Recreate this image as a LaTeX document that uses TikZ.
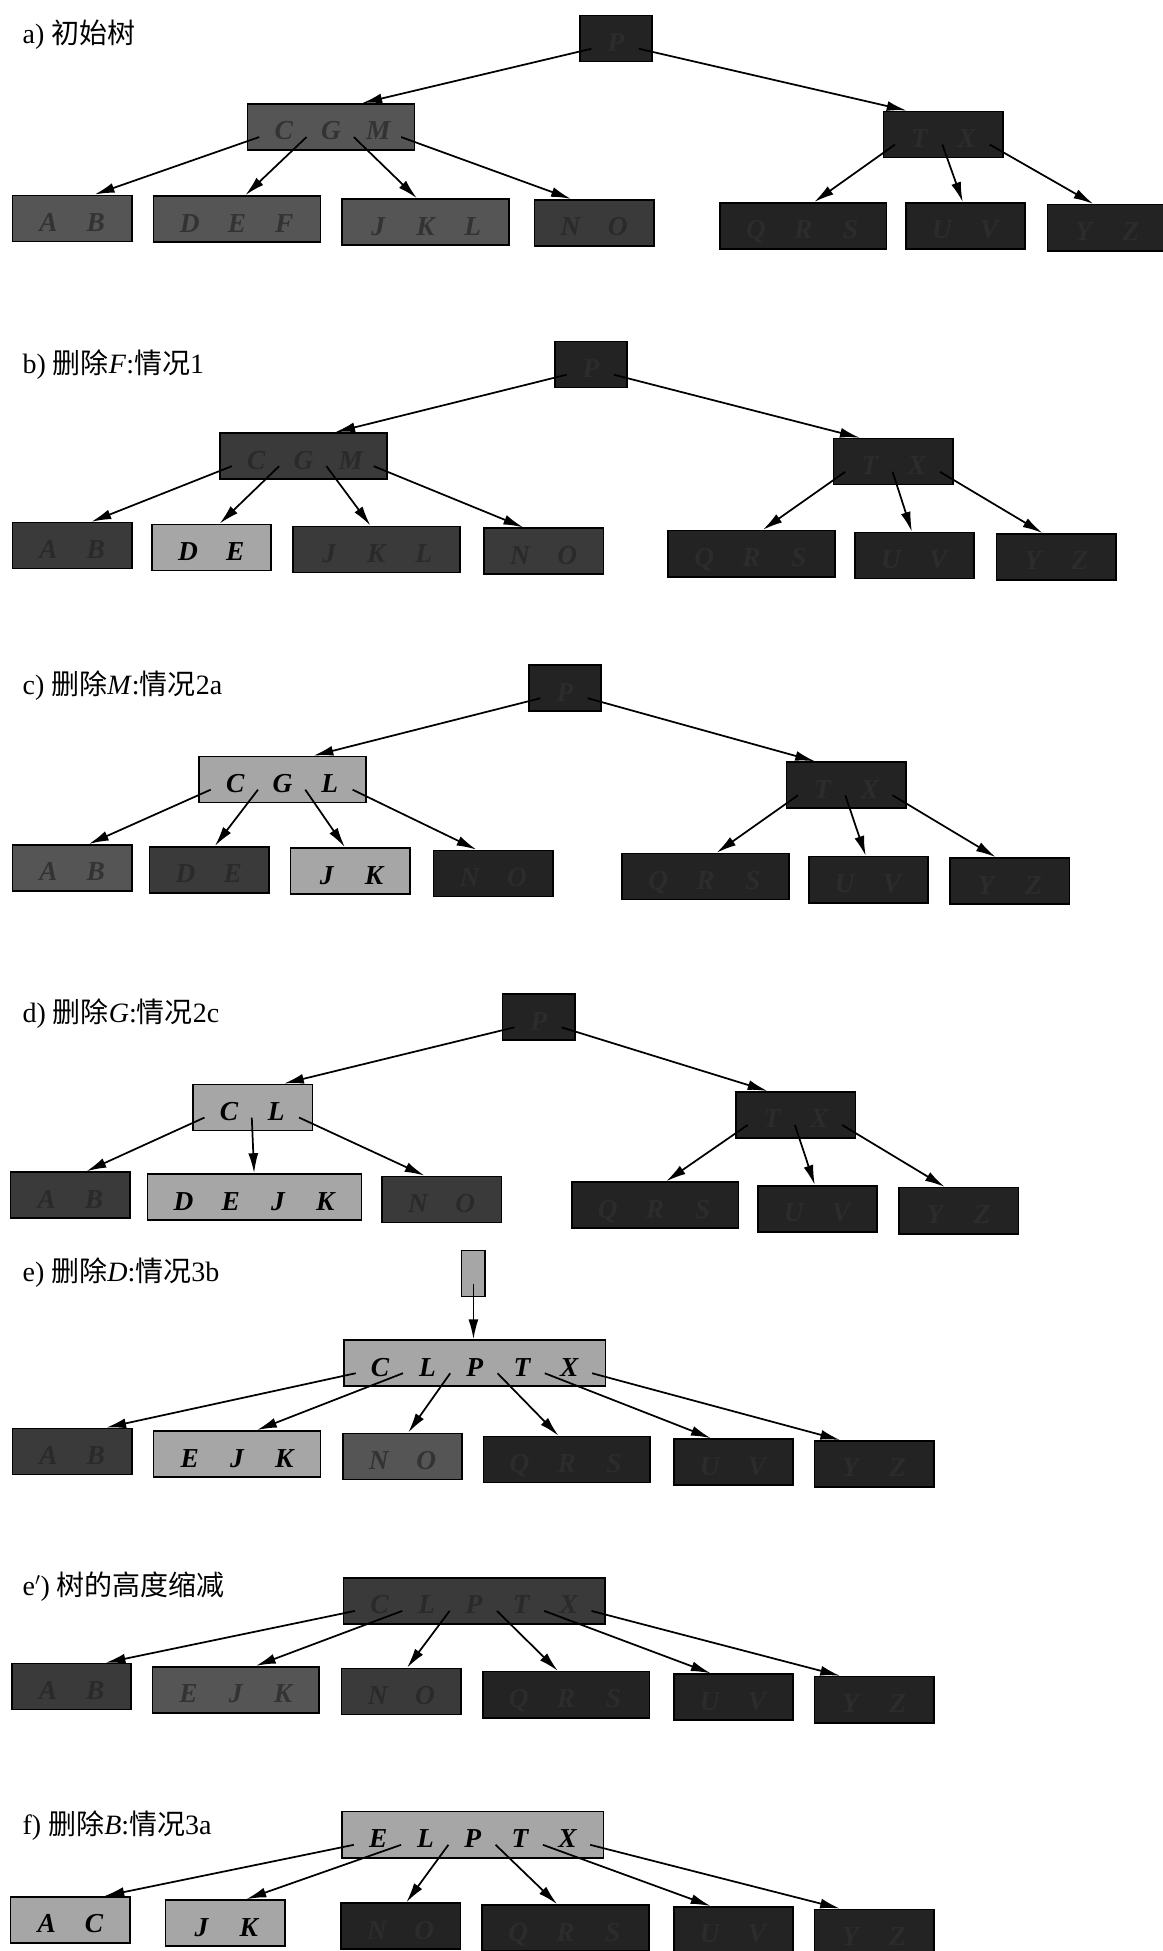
\documentclass[tikz,border=0pt]{standalone}
\usepackage{fontspec}
\setmainfont{Liberation Serif}
\newfontfamily\cjk{Noto Sans CJK SC}
\usetikzlibrary{arrows.meta,calc}

% keys of one B-tree node, one slot of 38pt each
\newcommand\bkeys[1]{\foreach \kname in {#1}{\makebox[38pt]{\kname}}}
% pointer #2 of node #1 to child #3
\newcommand\bptr[3]{%
  \coordinate (ps) at ($(#1.south west)+({(10+38*#2)*1pt},11pt)$);
  \coordinate (pt) at ($(#3.north)!0.12!(ps)$);
  \draw[arr] (ps) -- (pt |- #3.north);}

\begin{document}
\begin{tikzpicture}[x=1pt,y=-1pt]

	% ============================================================
	% COLORS
	% ============================================================
	\definecolor{liteFill}{HTML}{A6A6A6}
	\definecolor{greyFill}{HTML}{555555}
	\definecolor{greyText}{HTML}{333333}
	\definecolor{darkFill}{HTML}{3A3A3A}
	\definecolor{darkText}{HTML}{2A2A2A}
	\definecolor{blackFill}{HTML}{232323}
	\definecolor{blackText}{HTML}{2C2C2C}

	% ============================================================
	% STYLES
	% ============================================================
	\tikzset{
		bnode/.style={
			draw=black,
			line width=1.3pt,
			minimum height=37pt,
			inner xsep=10pt,
			inner ysep=0pt,
			text height=21pt,
			text depth=0pt,
			font=\bfseries\itshape\fontsize{22}{22}\selectfont
		},
	liteBox/.style={bnode, fill=liteFill, text=black},
	greyBox/.style={bnode, fill=greyFill, text=greyText},
	darkBox/.style={bnode, fill=darkFill, text=darkText},
	blackBox/.style={bnode, fill=blackFill, text=blackText},
	arr/.style={-{Latex[length=16pt,width=8pt]},line width=1.4pt,draw=black},
	lbl/.style={anchor=west, inner sep=0pt, font=\fontsize{22.5}{22.5}\selectfont}
	}

	\useasboundingbox (0,0) rectangle (934,1568);

	% ============================================================
	% a) INITIAL TREE
	% ============================================================
	\node[lbl] (alab) at (18,28) {a) {\cjk 初始树}};
	\node[blackBox] (aroot) at (495,31)    {\bkeys{P}};
	\node[greyBox]  (acgm)  at (266,102)   {\bkeys{C,G,M}};
	\node[blackBox] (atx)   at (758,108)   {\bkeys{T,X}};
	\node[greyBox]  (aab)   at (58,175.5)  {\bkeys{A,B}};
	\node[greyBox]  (adef)  at (190.5,176) {\bkeys{D,E,F}};
	\node[greyBox]  (ajkl)  at (342,178.5) {\bkeys{J,K,L}};
	\node[darkBox]  (ano)   at (477.5,179) {\bkeys{N,O}};
	\node[blackBox] (aqrs)  at (645.5,181.5) {\bkeys{Q,R,S}};
	\node[blackBox] (auv)   at (776,181.5) {\bkeys{U,V}};
	\node[blackBox] (ayz)   at (890,183)   {\bkeys{Y,Z}};

	\bptr{aroot}{0}{acgm}
	\bptr{aroot}{1}{atx}
	\foreach \i/\ch in {0/aab,1/adef,2/ajkl,3/ano} {\bptr{acgm}{\i}{\ch}}
	\foreach \i/\ch in {0/aqrs,1/auv,2/ayz} {\bptr{atx}{\i}{\ch}}

	% ============================================================
	% b) DELETE F: CASE 1
	% ============================================================
	\node[lbl] (blab) at (18,293) {b) {\cjk 删除}\textit{F}:{\cjk 情况}1};
	\node[blackBox] (broot) at (475,293)   {\bkeys{P}};
	\node[darkBox]  (bcgm)  at (244,366.5) {\bkeys{C,G,M}};
	\node[blackBox] (btx)   at (718,371)   {\bkeys{T,X}};
	\node[darkBox]  (bab)   at (58,438.5)  {\bkeys{A,B}};
	\node[liteBox]  (bde)   at (170,440)   {\bkeys{D,E}};
	\node[darkBox]  (bjkl)  at (302.5,441.5) {\bkeys{J,K,L}};
	\node[darkBox]  (bno)   at (437,443)   {\bkeys{N,O}};
	\node[blackBox] (bqrs)  at (604,445)   {\bkeys{Q,R,S}};
	\node[blackBox] (buv)   at (735,446.5) {\bkeys{U,V}};
	\node[blackBox] (byz)   at (849,447.5) {\bkeys{Y,Z}};

	\bptr{broot}{0}{bcgm}
	\bptr{broot}{1}{btx}
	\foreach \i/\ch in {0/bab,1/bde,2/bjkl,3/bno} {\bptr{bcgm}{\i}{\ch}}
	\foreach \i/\ch in {0/bqrs,1/buv,2/byz} {\bptr{btx}{\i}{\ch}}

	% ============================================================
	% c) DELETE M: CASE 2a
	% ============================================================
	\node[lbl] (clab) at (18,551) {c) {\cjk 删除}\textit{M}:{\cjk 情况}2a};
	\node[blackBox] (croot) at (454,553)   {\bkeys{P}};
	\node[liteBox]  (ccgl)  at (227,626.5) {\bkeys{C,G,L}};
	\node[blackBox] (ctx)   at (680,631)   {\bkeys{T,X}};
	\node[greyBox]  (cab)   at (58,697.5)  {\bkeys{A,B}};
	\node[darkBox]  (cde)   at (168,699)   {\bkeys{D,E}};
	\node[liteBox]  (cjk)   at (281.5,700) {\bkeys{J,K}};
	\node[blackBox] (cno)   at (396.5,702) {\bkeys{N,O}};
	\node[blackBox] (cqrs)  at (567,704.5) {\bkeys{Q,R,S}};
	\node[blackBox] (cuv)   at (698,707)   {\bkeys{U,V}};
	\node[blackBox] (cyz)   at (811.5,708) {\bkeys{Y,Z}};

	\bptr{croot}{0}{ccgl}
	\bptr{croot}{1}{ctx}
	\foreach \i/\ch in {0/cab,1/cde,2/cjk,3/cno} {\bptr{ccgl}{\i}{\ch}}
	\foreach \i/\ch in {0/cqrs,1/cuv,2/cyz} {\bptr{ctx}{\i}{\ch}}

	% ============================================================
	% d) DELETE G: CASE 2c
	% ============================================================
	\node[lbl] (dlab) at (18,815) {d) {\cjk 删除}\textit{G}:{\cjk 情况}2c};
	\node[blackBox] (droot) at (433,817.5) {\bkeys{P}};
	\node[liteBox]  (dcl)   at (203,890)   {\bkeys{C,L}};
	\node[blackBox] (dtx)   at (639.5,896) {\bkeys{T,X}};
	\node[darkBox]  (dab)   at (56.5,960.5) {\bkeys{A,B}};
	\node[liteBox]  (ddejk) at (204.5,962) {\bkeys{D,E,J,K}};
	\node[darkBox]  (dno)   at (355,964)   {\bkeys{N,O}};
	\node[blackBox] (dqrs)  at (526.5,968.5) {\bkeys{Q,R,S}};
	\node[blackBox] (duv)   at (657,971.5) {\bkeys{U,V}};
	\node[blackBox] (dyz)   at (770.5,973) {\bkeys{Y,Z}};

	\bptr{droot}{0}{dcl}
	\bptr{droot}{1}{dtx}
	\foreach \i/\ch in {0/dab,1/ddejk,2/dno} {\bptr{dcl}{\i}{\ch}}
	\foreach \i/\ch in {0/dqrs,1/duv,2/dyz} {\bptr{dtx}{\i}{\ch}}

	% ============================================================
	% e) DELETE D: CASE 3b
	% ============================================================
	\node[lbl] (elab) at (18,1023) {e) {\cjk 删除}\textit{D}:{\cjk 情况}3b};
	\node[bnode, fill=liteFill, minimum width=19pt, inner xsep=0pt] (eroot) at (380.5,1023.5) {};
	\node[liteBox]  (eclptx) at (381.5,1095.5) {\bkeys{C,L,P,T,X}};
	\node[darkBox]  (eab)   at (58,1166.5)  {\bkeys{A,B}};
	\node[liteBox]  (eejk)  at (190.5,1168.5) {\bkeys{E,J,K}};
	\node[greyBox]  (eno)   at (323.5,1170.5) {\bkeys{N,O}};
	\node[blackBox] (eqrs)  at (455.5,1173) {\bkeys{Q,R,S}};
	\node[blackBox] (euv)   at (589.5,1175) {\bkeys{U,V}};
	\node[blackBox] (eyz)   at (702.5,1176.5) {\bkeys{Y,Z}};

	\draw[arr] ($(eroot.south)+(0,-11)$) -- (eclptx.north -| eroot.south);
	\foreach \i/\ch in {0/eab,1/eejk,2/eno,3/eqrs,4/euv,5/eyz} {\bptr{eclptx}{\i}{\ch}}

	% ============================================================
	% e') TREE HEIGHT SHRINKS
	% ============================================================
	\node[lbl] (plab) at (18,1275) {e$'$) {\cjk 树的高度缩减}};
	\node[darkBox]  (pclptx) at (381,1286.5) {\bkeys{C,L,P,T,X}};
	\node[darkBox]  (pab)   at (57.5,1355.5) {\bkeys{A,B}};
	\node[greyBox]  (pejk)  at (189.5,1358) {\bkeys{E,J,K}};
	\node[darkBox]  (pno)   at (322.5,1359.5) {\bkeys{N,O}};
	\node[blackBox] (pqrs)  at (455,1362)   {\bkeys{Q,R,S}};
	\node[blackBox] (puv)   at (589.5,1364) {\bkeys{U,V}};
	\node[blackBox] (pyz)   at (702.5,1366) {\bkeys{Y,Z}};

	\foreach \i/\ch in {0/pab,1/pejk,2/pno,3/pqrs,4/puv,5/pyz} {\bptr{pclptx}{\i}{\ch}}

	% ============================================================
	% f) DELETE B: CASE 3a
	% ============================================================
	\node[lbl] (flab) at (18,1467) {f) {\cjk 删除}\textit{B}:{\cjk 情况}3a};
	\node[liteBox]  (felptx) at (380,1474.5) {\bkeys{E,L,P,T,X}};
	\node[liteBox]  (fac)   at (56.5,1543)  {\bkeys{A,C}};
	\node[liteBox]  (fjk)   at (181,1545.5) {\bkeys{J,K}};
	\node[blackBox] (fno)   at (322,1548)   {\bkeys{N,O}};
	\node[blackBox] (fqrs)  at (454.5,1549.5) {\bkeys{Q,R,S}};
	\node[blackBox] (fuv)   at (589.5,1551) {\bkeys{U,V}};
	\node[blackBox] (fyz)   at (702.5,1553) {\bkeys{Y,Z}};

	\foreach \i/\ch in {0/fac,1/fjk,2/fno,3/fqrs,4/fuv,5/fyz} {\bptr{felptx}{\i}{\ch}}

\end{tikzpicture}
\end{document}
